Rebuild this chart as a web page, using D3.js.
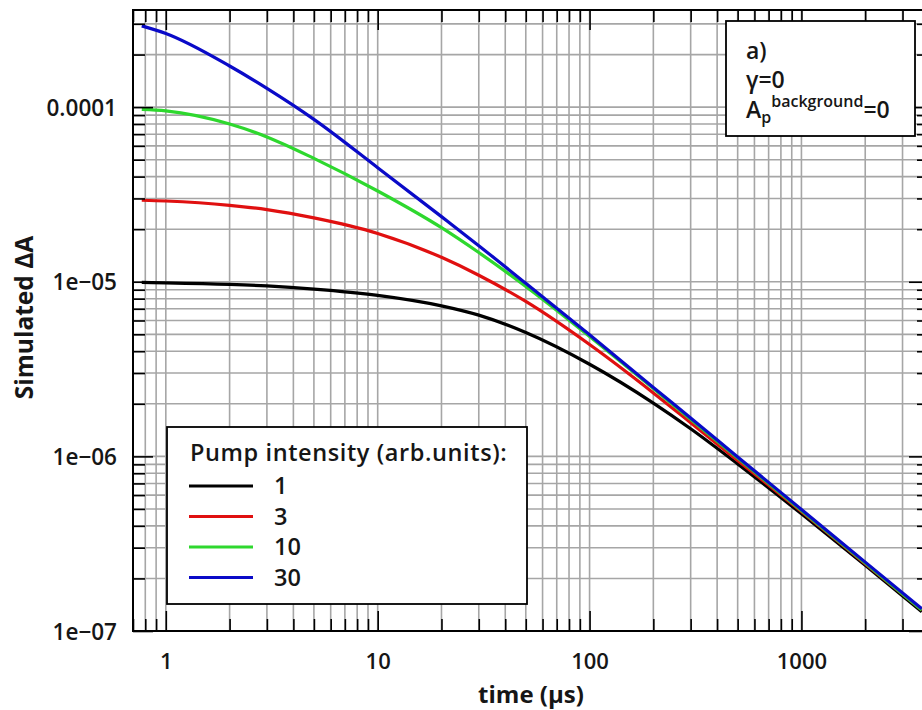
<!DOCTYPE html>
<html>
<head>
<meta charset="utf-8">
<script src="https://cdn.jsdelivr.net/npm/d3@7"></script>
<style>
  html, body { margin: 0; padding: 0; background: #fff; }
  svg { display: block; }
  text { font-family: "Open Sans", "DejaVu Sans", sans-serif; fill: #161616; }
</style>
</head>
<body>
<svg id="chart" width="922" height="710"></svg>
<script>
// ---------- data ----------
const times = [0.77, 1, 2, 3, 5, 10, 20, 30, 50, 100, 200, 300, 500, 1000, 2000, 3700];
const intensity1  = [9.91e-6, 9.86e-6, 9.66e-6, 9.46e-6, 9.08e-6, 8.36e-6, 7.28e-6, 6.44e-6, 5.12e-6, 3.37e-6, 2.02e-6, 1.44e-6, 9.06e-7, 4.69e-7, 2.38e-7, 1.29e-7];
const intensity3  = [2.93e-5, 2.90e-5, 2.74e-5, 2.59e-5, 2.32e-5, 1.89e-5, 1.38e-5, 1.09e-5, 7.71e-6, 4.37e-6, 2.31e-6, 1.56e-6, 9.48e-7, 4.84e-7, 2.43e-7, 1.32e-7];
const intensity10 = [9.70e-5, 9.51e-5, 8.00e-5, 6.75e-5, 5.09e-5, 3.31e-5, 2.04e-5, 1.47e-5, 9.40e-6, 4.86e-6, 2.45e-6, 1.63e-6, 9.79e-7, 4.90e-7, 2.45e-7, 1.32e-7];
const intensity30 = [2.92e-4, 2.64e-4, 1.72e-4, 1.28e-4, 8.51e-5, 4.50e-5, 2.36e-5, 1.61e-5, 9.79e-6, 4.97e-6, 2.48e-6, 1.66e-6, 9.93e-7, 4.97e-7, 2.48e-7, 1.34e-7];
const seriesNames = ["1", "3", "10", "30"];
const seriesValues = [intensity1, intensity3, intensity10, intensity30];
const seriesColors = ["#000000", "#e01010", "#2ed82e", "#0a0ac8"];
const xMajorTicks = [1, 10, 100, 1000];
const xTickLabels = ["1", "10", "100", "1000"];
const yMajorTicks = [1e-7, 1e-6, 1e-5, 1e-4];
const yTickLabels = ["1e\u221207", "1e\u221206", "1e\u221205", "0.0001"];
const xDomain = [0.7, 4000];
const yDomain = [1e-7, 3.6e-4];
const legendTitle = "Pump intensity (arb.units):";
const xTitle = "time (\u00b5s)";
const yTitle = "Simulated \u0394A";

// ---------- layout ----------
const L = 133, R = 929, T = 10, B = 631;
const svg = d3.select("#chart");
const x = d3.scaleLog().domain(xDomain).range([L, R]);
const y = d3.scaleLog().domain(yDomain).range([B, T]);

function minorTicks(lo, hi) {
  const out = [];
  for (let e = Math.floor(Math.log10(lo)); e <= Math.ceil(Math.log10(hi)); e++) {
    for (let m = 1; m <= 9; m++) {
      const v = m * Math.pow(10, e);
      if (v >= lo * 0.9999 && v <= hi * 1.0001) out.push(v);
    }
  }
  return out;
}
const xAll = minorTicks(xDomain[0], xDomain[1]);
const yAll = minorTicks(yDomain[0], yDomain[1]);
const xMinor = xAll.filter(v => !xMajorTicks.some(m => Math.abs(m - v) / m < 1e-6));
const yMinor = yAll.filter(v => !yMajorTicks.some(m => Math.abs(m - v) / m < 1e-6));

// ---------- grid ----------
const grid = svg.append("g").attr("stroke", "#a6a6a6").attr("stroke-width", 1.6);
grid.selectAll("line.v").data(xAll).join("line")
  .attr("x1", d => x(d)).attr("x2", d => x(d)).attr("y1", T).attr("y2", B);
grid.selectAll("line.h").data(yAll).join("line")
  .attr("y1", d => y(d)).attr("y2", d => y(d)).attr("x1", L).attr("x2", R);

// ---------- curves ----------
const line = d3.line().x(d => x(d[0])).y(d => y(d[1])).curve(d3.curveMonotoneX);
svg.append("g").selectAll("path").data(seriesValues).join("path")
  .attr("fill", "none")
  .attr("stroke", (d, i) => seriesColors[i])
  .attr("stroke-width", 3.2)
  .attr("stroke-linejoin", "round")
  .attr("d", vals => line(times.map((t, i) => [t, vals[i]])));

// ---------- axes (inward ticks) ----------
function styleAxis(g) {
  g.select(".domain").remove();
  g.selectAll(".tick line").attr("stroke", "#000").attr("stroke-width", 1.6);
}
const fmtX = d => xTickLabels[xMajorTicks.indexOf(d)];
const fmtY = d => yTickLabels[yMajorTicks.findIndex(m => Math.abs(m - d) / m < 1e-6)];

// bottom
svg.append("g").attr("transform", `translate(0,${B})`)
  .call(d3.axisBottom(x).tickValues(xMinor).tickSize(-12).tickFormat(""))
  .call(styleAxis);
const xb = svg.append("g").attr("transform", `translate(0,${B})`)
  .call(d3.axisBottom(x).tickValues(xMajorTicks).tickSize(-20).tickFormat(fmtX))
  .call(styleAxis);
xb.selectAll(".tick text").attr("y", 38).attr("dy", 0)
  .attr("font-size", 22).attr("font-weight", 600).attr("fill", "#161616")
  .attr("font-family", "Open Sans");
// top
svg.append("g").attr("transform", `translate(0,${T})`)
  .call(d3.axisTop(x).tickValues(xMinor).tickSize(-12).tickFormat(""))
  .call(styleAxis);
svg.append("g").attr("transform", `translate(0,${T})`)
  .call(d3.axisTop(x).tickValues(xMajorTicks).tickSize(-20).tickFormat(""))
  .call(styleAxis);
// left
svg.append("g").attr("transform", `translate(${L},0)`)
  .call(d3.axisLeft(y).tickValues(yMinor).tickSize(-12).tickFormat(""))
  .call(styleAxis);
const yl = svg.append("g").attr("transform", `translate(${L},0)`)
  .call(d3.axisLeft(y).tickValues(yMajorTicks).tickSize(-20).tickFormat(fmtY).tickPadding(16))
  .call(styleAxis);
yl.selectAll(".tick text").attr("dy", "0.36em")
  .attr("font-size", 22.5).attr("font-weight", 600).attr("fill", "#161616")
  .attr("font-family", "Open Sans");
// right
svg.append("g").attr("transform", `translate(${R},0)`)
  .call(d3.axisRight(y).tickValues(yMinor).tickSize(-12).tickFormat(""))
  .call(styleAxis);
svg.append("g").attr("transform", `translate(${R},0)`)
  .call(d3.axisRight(y).tickValues(yMajorTicks).tickSize(-20).tickFormat(""))
  .call(styleAxis);

// frame
svg.append("rect").attr("x", L).attr("y", T).attr("width", R - L).attr("height", B - T)
  .attr("fill", "none").attr("stroke", "#000").attr("stroke-width", 2);

// ---------- axis titles ----------
svg.append("text").attr("x", 531).attr("y", 703)
  .attr("text-anchor", "middle").attr("font-size", 24).attr("font-weight", 700)
  .text(xTitle);
svg.append("text").attr("transform", `translate(33,${(T + B) / 2 - 3}) rotate(-90)`)
  .attr("text-anchor", "middle").attr("font-size", 24.5).attr("font-weight", 700)
  .text(yTitle);

// ---------- legend ----------
const lg = svg.append("g");
lg.append("rect").attr("x", 167).attr("y", 427).attr("width", 360).attr("height", 177)
  .attr("fill", "#fff").attr("stroke", "#000").attr("stroke-width", 1.8);
lg.append("text").attr("x", 190).attr("y", 461)
  .attr("font-size", 23.5).attr("font-weight", 600).attr("letter-spacing", 0.6).text(legendTitle);
seriesNames.forEach((name, i) => {
  const yy = 486 + i * 30.5;
  lg.append("line").attr("x1", 189).attr("x2", 253).attr("y1", yy).attr("y2", yy)
    .attr("stroke", seriesColors[i]).attr("stroke-width", 3.2);
  lg.append("text").attr("x", 274).attr("y", yy).attr("dy", "0.36em")
    .attr("font-size", 23.5).attr("font-weight", 600).text(name);
});

// ---------- annotation box ----------
const an = svg.append("g");
an.append("rect").attr("x", 726).attr("y", 21).attr("width", 189).attr("height", 115)
  .attr("fill", "#fff").attr("stroke", "#000").attr("stroke-width", 1.8);
an.append("text").attr("x", 746).attr("y", 59).attr("font-size", 23).attr("font-weight", 600).text("a)");
an.append("text").attr("x", 746).attr("y", 88).attr("font-size", 23).attr("font-weight", 600).text("\u03b3=0");
const t3 = an.append("text").attr("x", 746).attr("y", 118).attr("font-size", 23).attr("font-weight", 600);
t3.append("tspan").text("A");
t3.append("tspan").attr("font-size", 16).attr("dy", 5).text("p");
t3.append("tspan").attr("font-size", 16).attr("dy", -16).text("background");
t3.append("tspan").attr("dy", 11).text("=0");
</script>
</body>
</html>
